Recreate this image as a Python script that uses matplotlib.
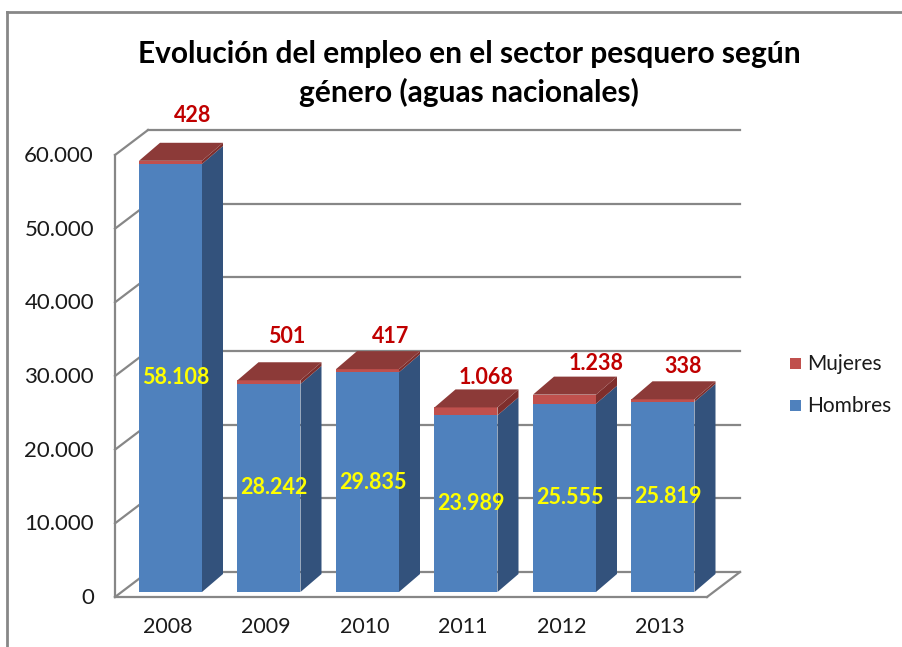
import matplotlib
matplotlib.use('Agg')
import matplotlib.pyplot as plt
from matplotlib.patches import Polygon, Rectangle
from matplotlib.lines import Line2D

# ---------------- data ----------------
years = ['2008', '2009', '2010', '2011', '2012', '2013']
hombres = [58108, 28242, 29835, 23989, 25555, 25819]
mujeres = [428, 501, 417, 1068, 1238, 338]
hombres_labels = ['58.108', '28.242', '29.835', '23.989', '25.555', '25.819']
mujeres_labels = ['428', '501', '417', '1.068', '1.238', '338']
y_ticks = [0, 10000, 20000, 30000, 40000, 50000, 60000]
y_tick_labels = ['0', '10.000', '20.000', '30.000', '40.000', '50.000', '60.000']
series_names = ['Mujeres', 'Hombres']
title_lines = ['Evolución del empleo en el sector pesquero según',
               'género (aguas nacionales)']

# ---------------- layout (pixels) ----------------
W, H = 903, 647
X0, DX = 170.5, 98.5          # pixel x of first bar front centre, spacing
BASE = 592                    # pixel y of value 0 on bar front plane
K = 442 / 60000               # pixels per unit
BAR_W = 63
BAR_D = (21, 18)              # bar depth offset (right, up)
WALL_D = (33, 25)             # wall depth offset (right, up)
FRONT_LEFT, FRONT_RIGHT, FRONT_BASE = 115, 707, 597
lab_dx = [22, 18, 23, 20, 32, 20]   # Mujeres label placement (px)
lab_up = [45, 44, 33, 30, 31, 33]
title_y = [54, 92]

C_H, C_H_SIDE = '#4F81BD', '#33527C'
C_M, C_M_SIDE, C_M_TOP = '#C0504D', '#7E2E2C', '#8C3A38'
C_GRID = '#878787'
FONT = ['Lato', 'DejaVu Sans']

plt.rcParams['font.family'] = FONT

fig = plt.figure(figsize=(W / 100, H / 100), dpi=100)
ax = fig.add_axes([0, 0, 1, 1])
ax.axis('off')
ax.set_xlim((0 - X0) / DX, (W - X0) / DX)
ax.set_ylim((BASE - H) / K, BASE / K)

ux = lambda p: p / DX   # px -> x data units
uy = lambda p: p / K    # px -> y data units

# ---- walls / grid ----
fl = (FRONT_LEFT - X0) / DX
fr = (FRONT_RIGHT - X0) / DX
fshift = -uy(FRONT_BASE - BASE)
bdx, bdy = ux(WALL_D[0]), uy(WALL_D[1])
lw = 1.6
for t, lab in zip(y_ticks, y_tick_labels):
    yv = t + fshift
    ax.plot([fl + bdx, fr + bdx], [yv + bdy, yv + bdy], color=C_GRID, lw=lw, zorder=1)
    ax.plot([fl, fl + bdx], [yv, yv + bdy], color=C_GRID, lw=lw, zorder=1)
    ax.text(fl - ux(21), yv - uy(1), lab, ha='right', va='center', fontsize=16, color='#1a1a1a')
ax.plot([fl, fl], [fshift, y_ticks[-1] + fshift], color=C_GRID, lw=lw, zorder=1)
ax.plot([fl, fr], [fshift, fshift], color=C_GRID, lw=lw, zorder=1)
ax.plot([fr, fr + bdx], [fshift, fshift + bdy], color=C_GRID, lw=lw, zorder=1)

# ---- bars ----
x = list(range(len(years)))
bw = ux(BAR_W)
ax.bar(x, hombres, width=bw, color=C_H, zorder=3, linewidth=0)
ax.bar(x, mujeres, bottom=hombres, width=bw, color=C_M, zorder=3, linewidth=0)
ddx, ddy = ux(BAR_D[0]), uy(BAR_D[1])
for i in x:
    xl, xr = i - bw / 2, i + bw / 2
    h, m = hombres[i], mujeres[i]
    top = h + m
    for y0, y1, c in [(0, h, C_H_SIDE), (h, top, C_M_SIDE)]:
        ax.add_patch(Polygon([(xr, y0), (xr + ddx, y0 + ddy), (xr + ddx, y1 + ddy), (xr, y1)],
                             closed=True, facecolor=c, edgecolor='none', zorder=3))
    ax.add_patch(Polygon([(xl, top), (xr, top), (xr + ddx, top + ddy), (xl + ddx, top + ddy)],
                         closed=True, facecolor=C_M_TOP, edgecolor='none', zorder=3))
    ax.text(i + ux(5), h / 2, hombres_labels[i], ha='center', va='center',
            fontsize=15.5, fontweight='bold', color='#FFFF00', zorder=5)
    ax.text(i + ux(lab_dx[i]), top + uy(lab_up[i]), mujeres_labels[i], ha='center', va='center',
            fontsize=15.5, fontweight='bold', color='#C00000', zorder=5)
    ax.text(i - ux(3), fshift - uy(30), years[i], ha='center', va='center', fontsize=15.5, color='#1a1a1a')

# ---- title ----
for line, ty in zip(title_lines, title_y):
    fig.text(469 / W, 1 - ty / H, line, ha='center', va='center', fontsize=21.5,
             fontweight='bold', color='#000000')

# ---- legend ----
leg_colors = [C_M, C_H]
for k, (name, c) in enumerate(zip(series_names, leg_colors)):
    yc = 363 + 42 * k
    fig.add_artist(Rectangle((790 / W, 1 - (yc + 6) / H), 11 / W, 11 / H,
                             transform=fig.transFigure, facecolor=c, edgecolor='none'))
    fig.text(807 / W, 1 - (yc + 1) / H, name, ha='left', va='center', fontsize=15, color='#1a1a1a')

# ---- outer border ----
fig.add_artist(Line2D([7 / W, 1], [1 - 12 / H, 1 - 12 / H], transform=fig.transFigure,
                      color=C_GRID, lw=2))
fig.add_artist(Line2D([7 / W, 7 / W], [0, 1 - 12 / H], transform=fig.transFigure,
                      color=C_GRID, lw=2))

fig.savefig('out.png', dpi=100)
